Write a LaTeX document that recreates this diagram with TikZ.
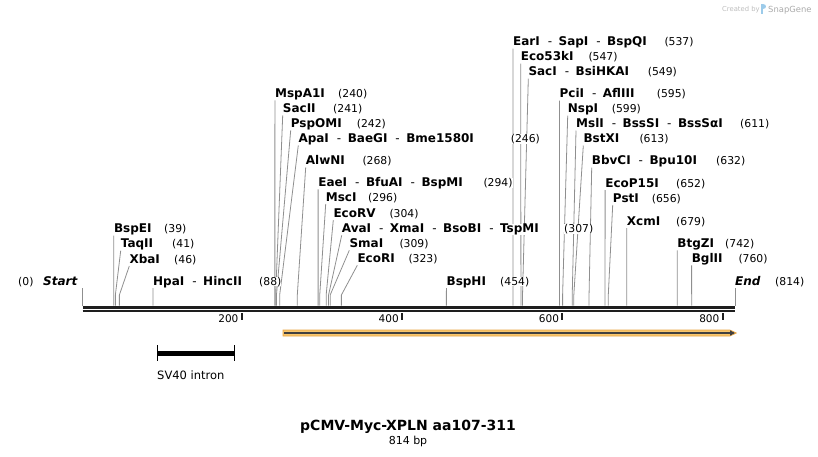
\documentclass[tikz,border=0pt]{standalone}
\usepackage{fontspec}
\setmainfont{DejaVu Sans}
\usetikzlibrary{arrows.meta}
\pgfdeclarelayer{cutlayer}
\pgfsetlayers{cutlayer,main}
\definecolor{cutgray}{HTML}{8F8F8F}
\definecolor{seqblack}{HTML}{1E1E1E}
\definecolor{featorange}{HTML}{F7C66E}
\definecolor{featedge}{HTML}{E9A441}
\definecolor{wmgray}{HTML}{BDBDBD}
\definecolor{wmblue}{HTML}{9CCBEA}
\newcommand\enzfont{\fontsize{12}{14}\selectfont\bfseries}
\newcommand\numfont{\fontsize{10.8}{13}\selectfont}
\newcommand\sepr{\hspace{8pt}{\mdseries -}\hspace{6.5pt}}
\newcommand\enzsite[6]{%
  \node[enz] (#1) at (#2,#3) {#4};
  \node[num] (#1n) at (#5,#3) {(#6)};
  \begin{pgfonlayer}{cutlayer}
  \draw[cut] ([yshift=-3pt]#1.base west) -- ({82.5+0.8015*#6},295) -- ({82.5+0.8015*#6},305.5);
  \end{pgfonlayer}
}
\begin{document}
\begin{tikzpicture}[x=1pt,y=-1pt,
  enz/.style={font=\enzfont, anchor=base west, inner sep=0pt, fill=white},
  num/.style={font=\numfont, anchor=base west, inner sep=0pt, fill=white},
  cut/.style={draw=cutgray, line width=0.8pt},
  ticklbl/.style={font=\fontsize{10.5}{12}\selectfont, anchor=base east, inner sep=0pt},
  seqline/.style={draw=seqblack}]
\useasboundingbox (0,0) rectangle (818,456);

% watermark
\node[anchor=base west, inner sep=0pt, text=wmgray, font=\fontsize{6.8}{8}\selectfont] (wm1) at (722,11) {Created by};
\fill[wmblue] (760.5,3.5) rectangle (763,13.5);
\fill[wmblue] (763,3.5) .. controls (767,3.5) and (767,9) .. (763,9) -- cycle;
\node[anchor=base west, inner sep=0pt, text=wmgray!90!black, font=\fontsize{8.4}{10}\selectfont] (wm2) at (768,12) {SnapGene};

% sequence line
\draw[seqline, line width=3.2pt] (82.5,307.3) -- (735,307.3);
\draw[seqline, line width=2.4pt] (82.5,311.2) -- (735,311.2);

% ticks
\foreach \v/\tx in {200/241.6, 400/401.9, 600/562.2, 800/722.5}{
  \draw[seqline, line width=2pt] (\tx,313) -- (\tx,320);
  \node[ticklbl] (t\v) at (\tx-3,322) {\v};
}

% start / end
\node[num, anchor=base west] (n0) at (18,285) {(0)};
\node[enz, font=\enzfont\itshape] (startlbl) at (43,285) {Start};
\coordinate (starttop) at (82.5,288);
\coordinate (startbot) at (82.5,305.5);
\draw[cut] (starttop) -- (startbot);
\node[enz, font=\enzfont\itshape] (endlbl) at (735,285) {End};
\node[num] (n814) at (775,285) {(814)};
\coordinate (endtop) at (734.9,288);
\coordinate (endbot) at (734.9,305.5);
\draw[cut] (endtop) -- (endbot);

% left group
\enzsite{bspei}{113.8}{232.7}{BspEI}{164}{39}
\enzsite{taqii}{120.7}{247.7}{TaqII}{172}{41}
\enzsite{xbai}{129.3}{263.0}{XbaI}{174}{46}
\enzsite{hpai}{153.0}{285.0}{HpaI\sepr HincII}{259}{88}

% middle group
\enzsite{mspa}{274.9}{97.3}{MspA1I}{338}{240}
\enzsite{sacii}{282.7}{112.3}{SacII}{333}{241}
\enzsite{pspo}{290.7}{127.3}{PspOMI}{356.7}{242}
\enzsite{apai}{298.3}{142.3}{ApaI\sepr BaeGI\sepr Bme1580I}{510.7}{246}
\enzsite{alwni}{305.7}{164.3}{AlwNI}{362.3}{268}
\enzsite{eaei}{318.1}{186.3}{EaeI\sepr BfuAI\sepr BspMI}{483.3}{294}
\enzsite{msci}{325.7}{201.0}{MscI}{368}{296}
\enzsite{ecorv}{333.3}{217.0}{EcoRV}{389.3}{304}
\enzsite{avai}{341.7}{232.3}{AvaI\sepr XmaI\sepr BsoBI\sepr TspMI}{564}{307}
\enzsite{smai}{349.3}{247.3}{SmaI}{399.3}{309}
\enzsite{ecori}{357.3}{262.3}{EcoRI}{408.3}{323}
\enzsite{bsphi}{446.4}{285.0}{BspHI}{500}{454}

% right group
\enzsite{eari}{512.9}{45.7}{EarI\sepr SapI\sepr BspQI}{664.3}{537}
\enzsite{eco53}{520.7}{60.7}{Eco53kI}{588.3}{547}
\enzsite{saci}{528.3}{75.7}{SacI\sepr BsiHKAI}{647.7}{549}
\enzsite{pcii}{559.4}{97.7}{PciI\sepr AflIII}{656.7}{595}
\enzsite{nspi}{567.7}{112.7}{NspI}{611.7}{599}
\enzsite{msli}{576.0}{127.5}{MslI\sepr BssSI\sepr BssSαI}{740}{611}
\enzsite{bstxi}{583.3}{142.5}{BstXI}{639.3}{613}
\enzsite{bbvci}{591.7}{164.7}{BbvCI\sepr Bpu10I}{716}{632}
\enzsite{ecop}{605.1}{187.0}{EcoP15I}{676}{652}
\enzsite{psti}{612.7}{202.0}{PstI}{651.7}{656}
\enzsite{xcmi}{626.7}{225.0}{XcmI}{676}{679}
\enzsite{btgzi}{677.2}{247.3}{BtgZI}{725}{742}
\enzsite{bglii}{691.6}{262.3}{BglII}{738.3}{760}

% feature arrow
\fill[featorange, draw=featedge, line width=0.6pt] (283,330) -- (730,330) -- (736.5,333) -- (730,336) -- (283,336) -- cycle;
\coordinate (fa) at (284,333);
\coordinate (fb) at (735,333);
\draw[seqblack!85, line width=1.6pt, -{Triangle[length=5pt,width=5pt]}] (fa) -- (fb);

% SV40 intron
\draw[black, line width=5pt] (157,353) -- (234,353);
\draw[black, line width=0.8pt] (157,345) -- (157,361);
\draw[black, line width=0.8pt] (234,345) -- (234,361);
\node[anchor=base west, inner sep=0pt, font=\fontsize{11.5}{13}\selectfont] (sv40) at (157,379) {SV40 intron};

% title
\node[anchor=base, inner sep=0pt, font=\fontsize{14}{16}\selectfont\bfseries] (title) at (408,430) {pCMV-Myc-XPLN aa107-311};
\node[anchor=base, inner sep=0pt, font=\fontsize{11}{13}\selectfont] (bp) at (408,444) {814 bp};
\end{tikzpicture}
\end{document}
